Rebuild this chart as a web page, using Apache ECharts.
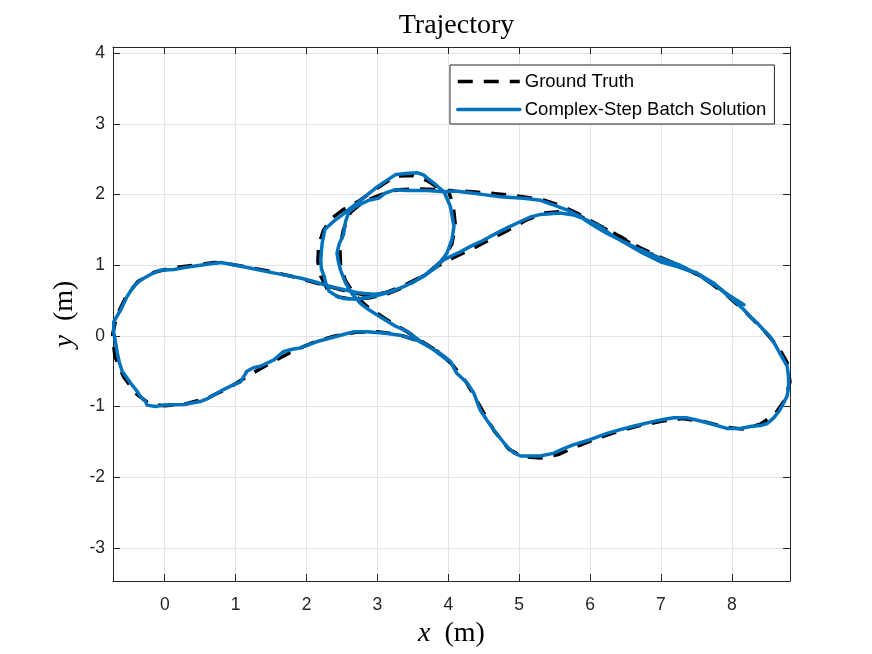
<!DOCTYPE html>
<html>
<head>
<meta charset="utf-8">
<script src="https://cdn.jsdelivr.net/npm/echarts@6/dist/echarts.min.js"></script>
<style>
html,body{margin:0;padding:0;background:#fff;}
#chart{width:872px;height:654px;}
</style>
</head>
<body>
<div id="chart"></div>
<script>
const chartTitle = 'Trajectory';
const seriesNames = ['Ground Truth', 'Complex-Step Batch Solution'];
const xRange = [-0.73, 8.82];
const yRange = [-3.47, 4.09];

// Ground truth trajectory [x, y] in metres
const truthPath = [
  [8.15,0.42],[7.90,0.62],[7.60,0.83],[7.30,0.97],[7.00,1.10],[6.70,1.24],[6.40,1.41],[6.10,1.58],[5.85,1.70],
  [5.60,1.76],[5.35,1.74],[5.10,1.64],[4.85,1.50],[4.60,1.37],[4.35,1.24],[4.10,1.12],[3.85,0.99],[3.60,0.83],
  [3.35,0.70],[3.10,0.61],[2.85,0.58],[2.60,0.62],[2.35,0.69],[2.10,0.76],[1.80,0.84],[1.50,0.91],[1.20,0.97],
  [0.90,1.02],[0.70,1.04],[0.40,1.00],[0.10,0.96],[-0.15,0.90],[-0.38,0.77],[-0.55,0.55],[-0.68,0.28],[-0.74,0.00],
  [-0.70,-0.30],[-0.58,-0.58],[-0.40,-0.82],[-0.22,-0.96],[0.00,-0.99],[0.30,-0.96],[0.60,-0.88],[0.90,-0.74],
  [1.20,-0.55],[1.50,-0.38],[1.80,-0.22],[2.10,-0.09],[2.40,0.00],[2.70,0.05],[3.00,0.06],[3.30,0.02],[3.60,-0.08],
  [3.85,-0.22],[4.05,-0.40],[4.25,-0.65],[4.45,-1.00],[4.65,-1.35],[4.85,-1.60],[5.05,-1.71],[5.30,-1.73],
  [5.55,-1.68],[5.80,-1.57],[6.10,-1.45],[6.40,-1.35],[6.70,-1.27],[7.00,-1.21],[7.30,-1.17],[7.60,-1.21],
  [7.90,-1.29],[8.15,-1.32],[8.40,-1.25],[8.60,-1.12],[8.75,-0.90],[8.82,-0.65],[8.78,-0.38],[8.65,-0.15],
  [8.45,0.08],[8.20,0.33],[7.90,0.60],[7.60,0.82],[7.30,0.98],[7.00,1.11],[6.70,1.25],[6.40,1.42],[6.10,1.58],
  [5.85,1.72],[5.60,1.84],[5.35,1.92],[5.05,1.97],[4.70,2.01],[4.35,2.04],[4.00,2.06],
  [4.07,1.85],[4.10,1.55],[4.05,1.30],[3.90,1.05],[3.65,0.85],[3.40,0.70],[3.15,0.60],[2.90,0.54],[2.65,0.52],
  [2.45,0.55],[2.30,0.65],[2.20,0.85],[2.16,1.05],[2.17,1.28],[2.24,1.50],[2.36,1.67],[2.52,1.79],[2.74,1.91],
  [2.98,2.08],[3.25,2.26],[3.50,2.27],[3.70,2.20],[3.90,2.07],[3.60,2.08],[3.30,2.07],[3.05,2.00],[2.80,1.90],
  [2.62,1.75],[2.52,1.50],[2.47,1.25],[2.48,1.00],[2.55,0.78],[2.68,0.58],[2.85,0.42],[3.10,0.25],[3.35,0.10],
  [3.60,-0.06],[3.85,-0.22]
];

// Complex-step batch estimate [x, y] in metres
const estPath = [
  [8.17,0.44],[7.98,0.56],[7.79,0.70],[7.62,0.80],[7.51,0.89],[7.35,0.94],[7.23,0.98],[6.99,1.05],[6.85,1.12],
  [6.71,1.19],[6.47,1.33],[6.30,1.43],[6.14,1.55],[5.91,1.66],[5.77,1.71],
  [5.58,1.74],[5.30,1.72],[5.15,1.68],[5.02,1.62],[4.85,1.54],[4.73,1.48],[4.60,1.41],[4.45,1.33],[4.30,1.26],
  [4.17,1.19],[4.02,1.12],[3.89,1.05],[3.78,0.95],[3.65,0.85],[3.52,0.77],[3.42,0.72],[3.30,0.67],[3.18,0.63],
  [3.05,0.60],[2.95,0.59],[2.82,0.60],[2.72,0.61],[2.55,0.65],[2.42,0.68],[2.30,0.71],
  [2.10,0.77],[1.91,0.82],[1.70,0.86],[1.44,0.91],[1.20,0.96],[0.95,1.01],[0.79,1.04],[0.65,1.02],[0.50,1.00],
  [0.30,0.97],[0.13,0.94],[-0.06,0.93],[-0.20,0.87],[-0.34,0.79],[-0.44,0.70],[-0.53,0.56],[-0.62,0.37],
  [-0.68,0.27],[-0.72,0.20],[-0.72,0.05],[-0.70,-0.06],[-0.67,-0.24],[-0.64,-0.38],[-0.60,-0.50],[-0.48,-0.67],
  [-0.40,-0.77],[-0.34,-0.86],[-0.27,-0.93],[-0.25,-0.98],[-0.13,-1.00],[-0.01,-0.98],[0.27,-0.97],[0.50,-0.93],
  [0.62,-0.88],[0.74,-0.81],[0.83,-0.76],[0.95,-0.70],[1.07,-0.65],[1.16,-0.50],[1.25,-0.45],[1.35,-0.43],
  [1.54,-0.34],[1.68,-0.22],[1.80,-0.19],[1.91,-0.17],[2.15,-0.08],[2.30,-0.04],[2.48,0.01],[2.67,0.06],
  [2.85,0.06],[3.09,0.04],[3.32,0.01],[3.56,-0.06],[3.72,-0.15],[3.89,-0.25],[4.03,-0.36],[4.12,-0.53],
  [4.27,-0.67],[4.36,-0.81],[4.45,-1.05],[4.55,-1.20],[4.64,-1.33],[4.75,-1.47],[4.83,-1.57],[4.93,-1.66],
  [5.02,-1.70],[5.15,-1.70],[5.30,-1.70],[5.49,-1.66],[5.62,-1.60],[5.77,-1.54],[6.00,-1.47],[6.24,-1.38],
  [6.45,-1.32],[6.61,-1.28],[6.90,-1.21],[7.05,-1.18],[7.18,-1.16],[7.37,-1.16],[7.50,-1.19],[7.65,-1.23],
  [7.93,-1.31],[8.12,-1.31],[8.28,-1.28],[8.40,-1.27],[8.50,-1.24],[8.59,-1.16],[8.67,-1.06],[8.73,-0.95],
  [8.78,-0.85],[8.80,-0.72],[8.80,-0.58],[8.78,-0.43],[8.68,-0.25],[8.62,-0.14],[8.54,-0.01],[8.45,0.08],
  [8.36,0.18],[8.25,0.28],[8.17,0.37],[8.05,0.48],[7.93,0.58],[7.74,0.75],[7.56,0.86],[7.40,0.93],[7.27,1.00],
  [6.99,1.10],[6.85,1.16],[6.71,1.22],[6.52,1.31],[6.24,1.45],[6.10,1.53],[5.96,1.62],[5.86,1.69],
  [5.68,1.78],[5.49,1.85],[5.30,1.92],[5.06,1.95],[4.73,1.97],[4.50,2.00],[4.36,2.02],[4.10,2.05],[3.94,2.04],
  [4.03,1.83],[4.08,1.55],[4.05,1.36],[3.98,1.17],[3.84,0.98],[3.65,0.84],[3.42,0.72],[3.18,0.62],[2.95,0.56],
  [2.71,0.52],[2.52,0.53],[2.43,0.56],[2.32,0.63],[2.27,0.75],[2.25,0.84],[2.21,0.95],[2.20,1.07],[2.21,1.20],
  [2.22,1.31],[2.26,1.51],[2.38,1.62],[2.50,1.71],[2.62,1.81],[2.74,1.90],[2.86,2.00],[2.97,2.09],[3.10,2.18],
  [3.25,2.28],[3.40,2.30],[3.56,2.31],[3.65,2.28],[3.72,2.22],[3.80,2.16],[3.88,2.09],[3.94,2.04],
  [3.70,2.06],[3.42,2.06],[3.25,2.07],[3.11,2.02],[3.02,1.95],[2.88,1.92],[2.69,1.83],[2.60,1.76],
  [2.55,1.62],[2.52,1.43],[2.46,1.30],[2.43,1.17],[2.45,1.05],[2.48,0.93],[2.55,0.75],[2.64,0.60],[2.76,0.46],
  [2.88,0.37],[3.07,0.25],[3.25,0.14],[3.43,0.06],[3.60,-0.07],[3.80,-0.20],[3.98,-0.34]
];

const axisColor = '#262626';
const gridColor = '#e3e3e3';
const sansFont = 'Liberation Sans, Arial, Helvetica, sans-serif';
const serifFont = 'Liberation Serif, Times New Roman, serif';

const chart = echarts.init(document.getElementById('chart'), null, {renderer: 'canvas'});

function mainAxis(range, pos, nameText, extra) {
  return Object.assign({
    type: 'value',
    position: pos,
    min: range[0],
    max: range[1],
    splitNumber: 10,
    minInterval: 1,
    maxInterval: 1,
    axisLine: {show: true, onZero: false, lineStyle: {color: axisColor, width: 1}},
    axisTick: {show: true, inside: true, length: 7, lineStyle: {color: axisColor}},
    axisLabel: {show: true, color: axisColor, fontSize: 17.5, fontFamily: sansFont, showMinLabel: false, showMaxLabel: false},
    splitLine: {show: true, lineStyle: {color: gridColor, width: 1}},
    name: nameText,
    nameLocation: 'middle',
    nameTextStyle: {
      color: '#000', fontSize: 28, fontFamily: serifFont,
      rich: {i: {fontStyle: 'italic', fontSize: 28, fontFamily: serifFont, color: '#000'}}
    }
  }, extra);
}
function mirrorAxis(range, pos) {
  return {
    type: 'value',
    position: pos,
    min: range[0],
    max: range[1],
    splitNumber: 10,
    minInterval: 1,
    maxInterval: 1,
    axisLine: {show: true, onZero: false, lineStyle: {color: axisColor, width: 1}},
    axisTick: {show: true, inside: true, length: 7, lineStyle: {color: axisColor}},
    axisLabel: {show: false},
    splitLine: {show: false}
  };
}

chart.setOption({
  animation: false,
  backgroundColor: '#fff',
  title: {
    text: chartTitle,
    left: 451.5,
    textAlign: 'center',
    top: 7,
    textStyle: {fontFamily: serifFont, fontSize: 28, fontWeight: 'normal', color: '#000'}
  },
  grid: {left: 113, right: 82, top: 47, bottom: 73, containLabel: false},
  legend: {
    orient: 'vertical',
    left: 450,
    top: 65,
    padding: [7, 8, 5, 6],
    itemGap: 9,
    itemWidth: 62,
    itemHeight: 14,
    backgroundColor: '#fff',
    borderColor: axisColor,
    borderWidth: 1,
    borderRadius: 0,
    itemStyle: {opacity: 0},
    lineStyle: {width: 3.5},
    textStyle: {fontFamily: sansFont, fontSize: 18.5, color: '#000', lineHeight: 18},
    data: seriesNames
  },
  xAxis: [
    mainAxis(xRange, 'bottom', '{i|x}\u2002(m)', {nameGap: 39, axisLabel: {show: true, color: axisColor, fontSize: 17.5, fontFamily: sansFont, showMinLabel: false, showMaxLabel: false, margin: 15}}),
    mirrorAxis(xRange, 'top')
  ],
  yAxis: [
    mainAxis(yRange, 'left', '{i|y}\u2002(m)', {nameGap: 34, nameRotate: 90}),
    mirrorAxis(yRange, 'right')
  ],
  series: [
    {
      name: seriesNames[0],
      type: 'line',
      xAxisIndex: 0,
      yAxisIndex: 0,
      data: truthPath,
      symbol: 'none',
      showSymbol: false,
      smooth: false,
      clip: true,
      color: '#000000',
      lineStyle: {color: '#000000', width: 3.5, type: [15, 11]}
    },
    {
      name: seriesNames[1],
      type: 'line',
      xAxisIndex: 0,
      yAxisIndex: 0,
      data: estPath,
      symbol: 'none',
      showSymbol: false,
      smooth: false,
      clip: true,
      color: '#0072BD',
      lineStyle: {color: '#0072BD', width: 3.5, join: 'round', cap: 'round'}
    }
  ]
});
</script>
</body>
</html>
